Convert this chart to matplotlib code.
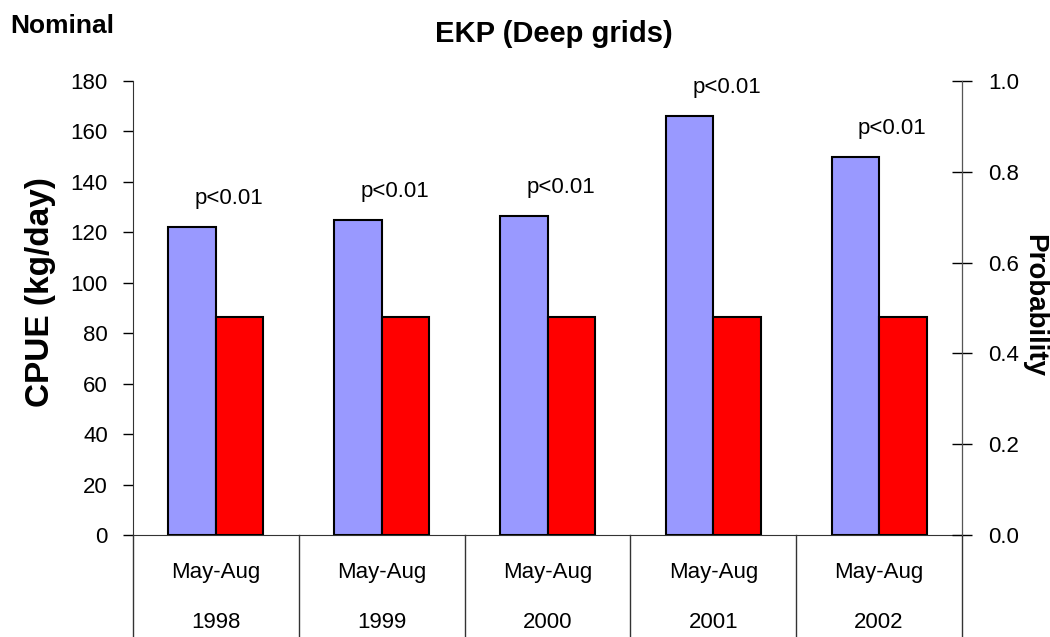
import numpy as np
import matplotlib.pyplot as plt

plt.rcParams['font.family'] = ['Liberation Sans', 'DejaVu Sans']

years = ['1998', '1999', '2000', '2001', '2002']
season = ['May-Aug'] * 5
cpue = [122, 125, 126.5, 166, 150]
prob = [0.48, 0.48, 0.48, 0.48, 0.48]
plabels = ['p<0.01'] * 5

blue = '#9999FF'
red = '#FF0000'

fig = plt.figure(figsize=(10.5, 6.37), dpi=100)
ax = fig.add_axes([133 / 1050, 102 / 637, 829 / 1050, 454 / 637])
ax2 = ax.twinx()

x = np.arange(len(years))
w = 0.286
ax.bar(x - w / 2, cpue, w, color=blue, edgecolor='black', linewidth=1.5, zorder=2)
ax2.bar(x + w / 2, prob, w, color=red, edgecolor='black', linewidth=1.5, zorder=2)

for xi, v, s in zip(x, cpue, plabels):
    ax.annotate(s, (xi + 0.08, v), xytext=(0, 13), textcoords='offset points',
                ha='center', va='bottom', fontsize=16)

ax.set_xlim(-0.5, len(years) - 0.5)
ax.set_ylim(0, 180)
ax.set_yticks(np.arange(0, 181, 20))
ax2.set_ylim(0, 1.0)
ax2.set_yticks(np.arange(0, 1.01, 0.2))
ax2.set_yticklabels([f'{t:.1f}' for t in np.arange(0, 1.01, 0.2)])

ax.set_xticks([])
for a in (ax, ax2):
    a.spines['top'].set_visible(False)
ax.spines['left'].set_color('#333333')
ax.spines['bottom'].set_color('#333333')
ax2.spines['right'].set_color('#555555')
ax2.spines['left'].set_visible(False)
ax2.spines['bottom'].set_visible(False)
ax.tick_params(axis='y', direction='out', length=7, width=1, labelsize=16,
               colors='black', pad=11)
ax2.tick_params(axis='y', direction='inout', length=14, width=1, labelsize=16,
                colors='black', pad=12)

# category separators and labels below the axis
trans = ax.get_xaxis_transform()
for b in np.arange(-0.5, len(years), 1.0):
    ax.plot([b, b], [0, -0.23], transform=trans, color='#333333', lw=1,
            clip_on=False)
for xi, s, yr in zip(x, season, years):
    ax.text(xi, -0.082, s, transform=trans, ha='center', va='center', fontsize=16)
    ax.text(xi, -0.192, yr, transform=trans, ha='center', va='center', fontsize=16)

fig.text(40 / 1050, 1 - 292 / 637, 'CPUE (kg/day)', rotation=90, ha='center',
         va='center', fontsize=24, fontweight='bold')
fig.text(1034 / 1050, 1 - 306 / 637, 'Probability', rotation=270, ha='center',
         va='center', fontsize=20, fontweight='bold')
fig.text(554 / 1050, 1 - 34 / 637, 'EKP (Deep grids)', ha='center', va='center',
         fontsize=21, fontweight='bold')
fig.text(10 / 1050, 1 - 26 / 637, 'Nominal', ha='left', va='center',
         fontsize=19, fontweight='bold')

fig.savefig('out.png', dpi=100)
